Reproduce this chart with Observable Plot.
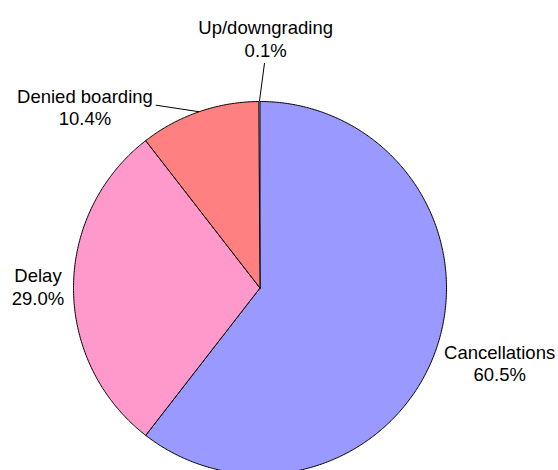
<!DOCTYPE html>
<html>
<head>
<meta charset="utf-8">
<script src="https://cdn.jsdelivr.net/npm/d3@7"></script>
<script src="https://cdn.jsdelivr.net/npm/@observablehq/plot@0.6"></script>
<style>
  html, body { margin: 0; padding: 0; background: #fff; }
  #chart svg { display: block; }
</style>
</head>
<body>
<div id="chart"></div>
<script>
// ---- data ----
const categories = ["Cancellations", "Delay", "Denied boarding", "Up/downgrading"];
const shares = [60.5, 29.0, 10.4, 0.1];
const shareLabels = ["60.5%", "29.0%", "10.4%", "0.1%"];
const colors = ["#9999FF", "#FF99CC", "#FF8080", "#FFFFCC"];

// ---- layout ----
const W = 558, H = 470;
const cx = 259.5, cy = 287.5, r = 186.5;
const fontSize = 18.5;
// label placement (polar around the centre: angle in degrees clockwise from 12 o'clock, distance in px)
const labelPolar = [
  {angle: 107.3, dist: 251},
  {angle: 270.4, dist: 222},
  {angle: 316.0, dist: 252},
  {angle: 1.3, dist: 250}
];
// leader lines (only for small slices): end point in polar coords
const leaderPolar = [null, null, {angle: 330.3, dist: 210.5}, {angle: 1.15, dist: 225}];

const pol = (deg, d) => {
  const a = deg * Math.PI / 180;
  return {x: cx + d * Math.sin(a), y: cy - d * Math.cos(a)};
};

const arcs = d3.pie().sort(null).value(d => d)(shares);
const slicePts = [];
arcs.forEach((a, i) => {
  const name = categories[i];
  slicePts.push({name, x: cx, y: cy});
  const n = Math.max(2, Math.ceil((a.endAngle - a.startAngle) / (Math.PI / 360)));
  for (let k = 0; k <= n; k++) {
    const t = a.startAngle + (a.endAngle - a.startAngle) * k / n;
    slicePts.push({name, x: cx + r * Math.sin(t), y: cy - r * Math.cos(t)});
  }
  slicePts.push({name, x: cx, y: cy});
});
const bigPts = slicePts.filter(d => d.name !== "Up/downgrading");
const tinyPts = slicePts.filter(d => d.name === "Up/downgrading");

const labels = categories.map((c, i) => {
  const p = pol(labelPolar[i].angle, labelPolar[i].dist);
  return {text: c + "\n" + shareLabels[i], x: p.x, y: p.y};
});

const leaders = [];
arcs.forEach((a, i) => {
  if (!leaderPolar[i]) return;
  const mid = (a.startAngle + a.endAngle) / 2 * 180 / Math.PI;
  const p1 = pol(mid, r);
  const p2 = pol(leaderPolar[i].angle, leaderPolar[i].dist);
  leaders.push({x1: p1.x, y1: p1.y, x2: p2.x, y2: p2.y});
});

const chart = Plot.plot({
  width: W,
  height: H,
  margin: 0,
  style: {fontFamily: "'Liberation Sans', Arial, sans-serif", background: "#fff"},
  x: {domain: [0, W], range: [0, W], axis: null},
  y: {domain: [0, H], range: [0, H], axis: null},
  color: {domain: categories, range: colors},
  marks: [
    Plot.line(tinyPts, {x: "x", y: "y", z: "name", fill: "name", stroke: "none"}),
    Plot.line(bigPts, {x: "x", y: "y", z: "name", fill: "name", stroke: "#000", strokeWidth: 1, strokeLinejoin: "round", curve: "linear"}),
    Plot.link(leaders, {x1: "x1", y1: "y1", x2: "x2", y2: "y2", stroke: "#000", strokeWidth: 1}),
    Plot.text(labels, {x: "x", y: "y", text: "text", fill: "#000", fontSize: fontSize, lineHeight: 1.22, textAnchor: "middle", lineAnchor: "middle"})
  ]
});
document.getElementById("chart").appendChild(chart);
</script>
</body>
</html>
